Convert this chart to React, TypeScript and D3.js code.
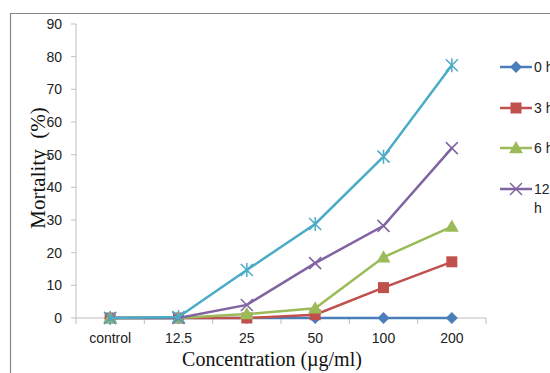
import React from "react";
import * as d3 from "d3";

const categories = ["control", "12.5", "25", "50", "100", "200"];
const seriesNames = ["0 h", "3 h", "6 h", "12 h", "24 h"];
const values0h = [0, 0, 0, 0, 0, 0];
const values3h = [0, 0, 0, 1, 9.3, 17.2];
const values6h = [0, 0, 1.2, 3, 18.6, 28];
const values12h = [0, 0, 4, 16.8, 28.2, 52];
const values24h = [0, 0.3, 14.7, 28.8, 49.4, 77.4];
const yTicks = [0, 10, 20, 30, 40, 50, 60, 70, 80, 90];
const colors = ["#4A7EBB", "#C0504D", "#9BBB59", "#8064A2", "#4BACC6"];
const markers = ["diamond", "square", "triangle", "x", "star"];
const legendLabels = ["0 h", "3 h", "6 h", "12"];

const allSeries = [values0h, values3h, values6h, values12h, values24h];

function Marker({ type, x, y, color }: { type: string; x: number; y: number; color: string }) {
  if (type === "diamond") {
    const s = 6;
    return <path d={`M${x},${y - s}L${x + s},${y}L${x},${y + s}L${x - s},${y}Z`} fill={color} />;
  }
  if (type === "square") {
    const s = 5.5;
    return <rect x={x - s} y={y - s} width={2 * s} height={2 * s} fill={color} />;
  }
  if (type === "triangle") {
    const s = 7;
    return <path d={`M${x},${y - s}L${x + s},${y + s * 0.75}L${x - s},${y + s * 0.75}Z`} fill={color} />;
  }
  if (type === "x") {
    const s = 6;
    return (
      <path d={`M${x - s},${y - s}L${x + s},${y + s}M${x - s},${y + s}L${x + s},${y - s}`} stroke={color} strokeWidth={1.5} fill="none" />
    );
  }
  const s = 6;
  return (
    <path
      d={`M${x - s},${y - s}L${x + s},${y + s}M${x - s},${y + s}L${x + s},${y - s}M${x},${y - s - 1}L${x},${y + s + 1}`}
      stroke={color}
      strokeWidth={1.5}
      fill="none"
    />
  );
}

export default function App() {
  const W = 550;
  const H = 373;
  const x0 = 76;
  const x1 = 486;
  const yTop = 24;
  const yBot = 318;
  const x = d3.scaleBand<string>().domain(categories).range([x0, x1]);
  const y = d3.scaleLinear().domain([0, 90]).range([yBot, yTop]);
  const line = d3
    .line<number>()
    .x((_, i) => (x(categories[i]) as number) + x.bandwidth() / 2)
    .y((d) => y(d));
  const sans = "'Liberation Sans', Arial, sans-serif";
  const serif = "'Liberation Serif', 'Times New Roman', serif";
  const boundaries = d3.range(categories.length + 1).map((i) => x0 + i * x.step());
  const legendY = [67, 108, 148, 189];

  return (
    <div style={{ position: "fixed", left: 0, top: 0 }}>
      <svg width={W} height={H} style={{ display: "block", background: "#fff" }}>
        <rect x={0} y={0} width={W} height={H} fill="#fff" />
        {/* chart border */}
        <path d={`M10.5,${H}L10.5,13.5L${W},13.5`} stroke="#868686" strokeWidth={1.2} fill="none" />
        {/* y axis */}
        <line x1={x0} x2={x0} y1={yTop} y2={yBot} stroke="#BFBFBF" strokeWidth={1} />
        {yTicks.map((t) => (
          <g key={t}>
            <line x1={x0 - 5} x2={x0} y1={y(t)} y2={y(t)} stroke="#BFBFBF" />
            <text x={x0 - 14} y={y(t)} dy="0.35em" textAnchor="end" fontFamily={sans} fontSize={14} fill="#222">
              {t}
            </text>
          </g>
        ))}
        {/* x axis */}
        <line x1={x0} x2={x1} y1={yBot} y2={yBot} stroke="#BFBFBF" strokeWidth={1} />
        {boundaries.map((b, i) => (
          <line key={i} x1={b} x2={b} y1={yBot} y2={yBot + 6} stroke="#BFBFBF" />
        ))}
        {categories.map((c) => (
          <text
            key={c}
            x={(x(c) as number) + x.bandwidth() / 2}
            y={338}
            dy="0.35em"
            textAnchor="middle"
            fontFamily={sans}
            fontSize={14}
            fill="#222"
          >
            {c}
          </text>
        ))}
        {/* titles */}
        <text x={272} y={359} dy="0.35em" textAnchor="middle" fontFamily={serif} fontSize={20} fill="#111">
          Concentration (µg/ml)
        </text>
        <text
          transform={`translate(38,168) rotate(-90)`}
          dy="0.35em"
          textAnchor="middle"
          fontFamily={serif}
          fontSize={21}
          fill="#111"
          style={{ whiteSpace: "pre" }}
        >
          {"Mortality  (%)"}
        </text>
        {/* series */}
        {allSeries.map((vals, si) => (
          <g key={seriesNames[si]}>
            <path d={line(vals) as string} stroke={colors[si]} strokeWidth={2.5} fill="none" />
            {vals.map((v, i) => (
              <Marker
                key={i}
                type={markers[si]}
                x={(x(categories[i]) as number) + x.bandwidth() / 2}
                y={y(v)}
                color={colors[si]}
              />
            ))}
          </g>
        ))}
        {/* legend */}
        {legendLabels.map((lab, i) => (
          <g key={lab}>
            <line x1={500} x2={532} y1={legendY[i]} y2={legendY[i]} stroke={colors[i]} strokeWidth={2.5} />
            <Marker type={markers[i]} x={516} y={legendY[i]} color={colors[i]} />
            <text x={534} y={legendY[i]} dy="0.35em" fontFamily={sans} fontSize={14} fill="#222">
              {lab}
            </text>
          </g>
        ))}
        <text x={534} y={208} dy="0.35em" fontFamily={sans} fontSize={14} fill="#222">
          h
        </text>
      </svg>
    </div>
  );
}
